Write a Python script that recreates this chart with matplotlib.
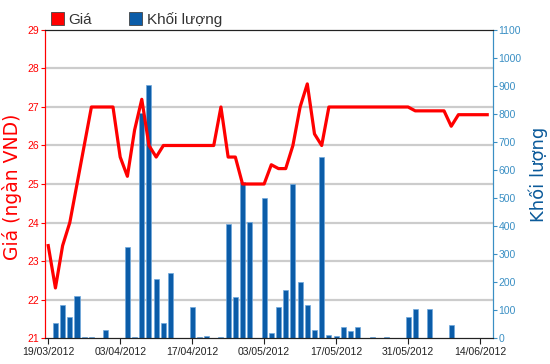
"""Price / volume chart, 19/03/2012 - 14/06/2012."""

import matplotlib

matplotlib.use("Agg")
import matplotlib.pyplot as plt
import numpy as np
from matplotlib.patches import Patch

RED = "#FF0000"
BAR = "#0B5CA8"
BAR_EDGE = "#6FA8DC"
RIGHT_AXIS = "#3A8FC4"
RIGHT_LABEL = "#0B5A9A"
GRID = "#CCCCCC"

# one value per trading session, 19/03/2012 onward
price = [
    23.4, 22.3, 23.4, 24.0, 25.0, 26.0, 27.0, 27.0, 27.0, 27.0,
    25.7, 25.2, 26.4, 27.2, 26.0, 25.7, 26.0, 26.0, 26.0, 26.0,
    26.0, 26.0, 26.0, 26.0, 27.0, 25.7, 25.7, 25.0, 25.0, 25.0,
    25.0, 25.5, 25.4, 25.4, 26.0, 27.0, 27.6, 26.3, 26.0, 27.0,
    27.0, 27.0, 27.0, 27.0, 27.0, 27.0, 27.0, 27.0, 27.0, 27.0,
    27.0, 26.9, 26.9, 26.9, 26.9, 26.9, 26.5, 26.8, 26.8, 26.8,
    26.8, 26.8,
]
volume = [
    0, 54, 118, 75, 150, 5, 5, 0, 29, 0,
    0, 325, 5, 803, 903, 210, 54, 233, 0, 0,
    111, 5, 8, 0, 5, 406, 147, 557, 413, 0,
    500, 18, 111, 171, 550, 200, 118, 29, 646, 11,
    7, 39, 25, 39, 0, 4, 0, 4, 0, 0,
    75, 104, 0, 104, 0, 0, 46, 0, 0, 0,
    0, 0,
]
tick_sessions = [0, 10, 20, 30, 40, 50, 60]
tick_labels = ["19/03/2012", "03/04/2012", "17/04/2012", "03/05/2012",
               "17/05/2012", "31/05/2012", "14/06/2012"]
price_ticks = [21, 22, 23, 24, 25, 26, 27, 28, 29]
volume_ticks = list(range(0, 1101, 100))

plt.rcParams["font.family"] = ["Liberation Sans", "DejaVu Sans"]

fig = plt.figure(figsize=(5.5, 3.64), dpi=100)
ax_vol = fig.add_axes((0.0818, 0.0714, 0.8145, 0.8462))
ax_price = ax_vol.twinx()
ax_price.set_zorder(ax_vol.get_zorder() + 1)
ax_price.patch.set_visible(False)

sessions = np.arange(len(price))

# price-based grid, expressed on the volume scale so it sits under the bars
p_lo, p_hi = price_ticks[0], price_ticks[-1]
v_hi = volume_ticks[-1]
for p in price_ticks[1:-1]:
    ax_vol.axhline((p - p_lo) / (p_hi - p_lo) * v_hi, color=GRID, linewidth=1.6, zorder=0)

ax_vol.bar(sessions, volume, width=0.7, color=BAR, edgecolor=BAR_EDGE, linewidth=0.5, zorder=2)
ax_price.plot(sessions, price, color=RED, linewidth=2.3, solid_joinstyle="round")

ax_vol.set_xlim(-0.45, 61.8)
ax_vol.set_ylim(0, v_hi)
ax_price.set_ylim(p_lo, p_hi)

# volume axis on the right, price axis on the left
ax_vol.yaxis.tick_right()
ax_vol.yaxis.set_label_position("right")
ax_price.yaxis.tick_left()
ax_price.yaxis.set_label_position("left")

ax_vol.set_yticks(volume_ticks)
ax_vol.tick_params(axis="y", colors=RIGHT_AXIS, labelsize=7.5, length=3, pad=1)
ax_price.set_yticks(price_ticks)
ax_price.tick_params(axis="y", colors=RED, labelsize=7.5, length=3, pad=1)

ax_vol.set_xticks(tick_sessions)
ax_vol.set_xticklabels(tick_labels)
ax_vol.tick_params(axis="x", colors="#222222", labelsize=7.5, length=4, pad=2.5)

for axis in (ax_vol, ax_price):
    axis.spines["top"].set_color("#222222")
    axis.spines["bottom"].set_color("#222222")
    axis.spines["left"].set_color(RED)
    axis.spines["right"].set_color(RIGHT_AXIS)

ax_price.set_ylabel("Giá (ngàn VND)", color=RED, fontsize=13.5, family="DejaVu Sans")
ax_price.yaxis.set_label_coords(-0.052, 0.49)
ax_vol.set_ylabel("Khối lượng", color=RIGHT_LABEL, fontsize=13, family="DejaVu Sans")
ax_vol.yaxis.set_label_coords(1.08, 0.53)

handles = [
    Patch(facecolor=RED, edgecolor="#444444", linewidth=0.6, label="Giá"),
    Patch(facecolor=BAR, edgecolor="#444444", linewidth=0.6, label="Khối lượng"),
]
fig.legend(
    handles=handles,
    loc="upper left",
    bbox_to_anchor=(0.068, 1.005),
    ncol=2,
    frameon=False,
    fontsize=11,
    handlelength=0.85,
    handleheight=0.85,
    handletextpad=0.3,
    columnspacing=2.4,
    labelcolor="#333333",
)

fig.savefig("out.png", dpi=100)
